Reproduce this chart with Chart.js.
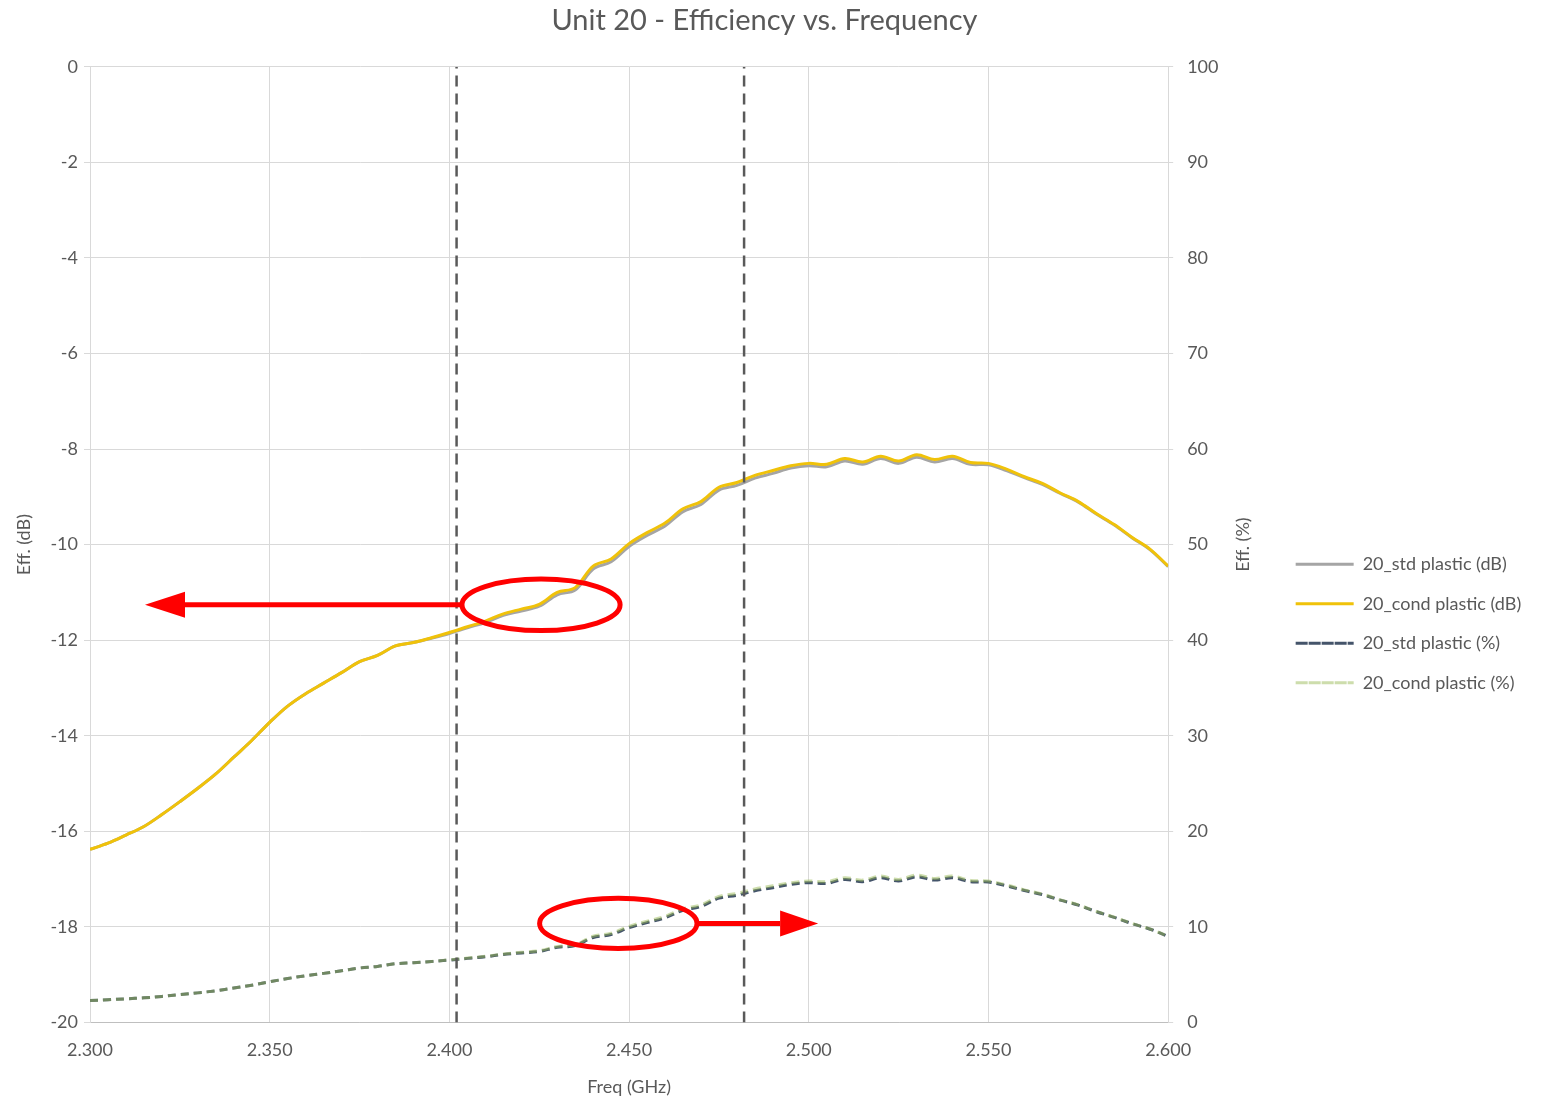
<!DOCTYPE html>
<html>
<head>
<meta charset="utf-8">
<title>Unit 20 - Efficiency vs. Frequency</title>
<script src="https://cdn.jsdelivr.net/npm/chart.js@4.4.1/dist/chart.umd.min.js"></script>
<style>
  html, body { margin: 0; padding: 0; background: #ffffff; }
  #wrap { width: 1543px; height: 1099px; }
</style>
</head>
<body>
<div id="wrap"><canvas id="effChart"></canvas></div>
<script>
// frequency points (GHz)
const freqGHz = [
  2.300, 2.305, 2.310, 2.315, 2.320, 2.325, 2.330, 2.335, 2.340, 2.345,
  2.350, 2.355, 2.360, 2.365, 2.370, 2.375, 2.380, 2.385, 2.390, 2.395,
  2.400, 2.405, 2.410, 2.415, 2.420, 2.425, 2.430, 2.435, 2.440, 2.445,
  2.450, 2.455, 2.460, 2.465, 2.470, 2.475, 2.480, 2.485, 2.490, 2.495,
  2.500, 2.505, 2.510, 2.515, 2.520, 2.525, 2.530, 2.535, 2.540, 2.545,
  2.550, 2.555, 2.560, 2.565, 2.570, 2.575, 2.580, 2.585, 2.590, 2.595,
  2.600
];

// efficiency in dB
const condDb = [
  -16.38, -16.25, -16.08, -15.90, -15.65, -15.38, -15.10, -14.80, -14.45, -14.10,
  -13.72, -13.38, -13.12, -12.90, -12.68, -12.45, -12.32, -12.12, -12.05, -11.95,
  -11.84, -11.72, -11.60, -11.45, -11.35, -11.25, -11.00, -10.90, -10.45, -10.30,
  -9.98, -9.75, -9.55, -9.25, -9.10, -8.80, -8.70, -8.55, -8.45, -8.35,
  -8.30, -8.32, -8.20, -8.27, -8.15, -8.25, -8.12, -8.22, -8.15, -8.28,
  -8.30, -8.42, -8.58, -8.72, -8.92, -9.10, -9.35, -9.58, -9.85, -10.10,
  -10.45
];
const stdDb = [
  -16.38, -16.25, -16.08, -15.90, -15.65, -15.38, -15.10, -14.80, -14.45, -14.10,
  -13.72, -13.38, -13.12, -12.90, -12.68, -12.45, -12.32, -12.12, -12.05, -11.96,
  -11.86, -11.74, -11.63, -11.48, -11.39, -11.29, -11.05, -10.95, -10.51, -10.36,
  -10.04, -9.81, -9.61, -9.31, -9.16, -8.86, -8.76, -8.61, -8.51, -8.40,
  -8.35, -8.37, -8.25, -8.32, -8.20, -8.30, -8.17, -8.27, -8.20, -8.32,
  -8.33, -8.45, -8.60, -8.74, -8.93, -9.11, -9.36, -9.59, -9.86, -10.11,
  -10.46
];

// efficiency in %
const condPct = [
  2.30, 2.37, 2.47, 2.57, 2.72, 2.90, 3.09, 3.31, 3.59, 3.89,
  4.25, 4.59, 4.88, 5.13, 5.40, 5.69, 5.86, 6.14, 6.24, 6.38,
  6.55, 6.73, 6.92, 7.16, 7.33, 7.50, 7.94, 8.13, 9.02, 9.33,
  10.05, 10.59, 11.09, 11.89, 12.30, 13.18, 13.49, 13.96, 14.29, 14.62,
  14.79, 14.72, 15.14, 14.89, 15.31, 14.96, 15.42, 15.07, 15.31, 14.86,
  14.79, 14.39, 13.87, 13.43, 12.82, 12.30, 11.61, 11.01, 10.35, 9.77,
  9.02
];
const stdPct = [
  2.30, 2.37, 2.47, 2.57, 2.72, 2.90, 3.09, 3.31, 3.59, 3.89,
  4.25, 4.59, 4.88, 5.13, 5.40, 5.69, 5.86, 6.14, 6.24, 6.37,
  6.52, 6.70, 6.87, 7.11, 7.27, 7.43, 7.85, 8.04, 8.89, 9.20,
  9.91, 10.44, 10.94, 11.73, 12.13, 13.00, 13.30, 13.77, 14.09, 14.45,
  14.62, 14.55, 14.96, 14.72, 15.14, 14.79, 15.24, 14.89, 15.14, 14.72,
  14.69, 14.29, 13.80, 13.37, 12.79, 12.27, 11.59, 10.99, 10.33, 9.75,
  9.00
];

// band edges (GHz), dashed vertical markers
const bandEdges = [2.402, 2.482];

// red callouts: ellipse centre / half sizes in data units, arrow tip on x
const dbCallout = { cx: 2.4255, cy: -11.26, rx: 0.0220, ry: 0.54, tip: 2.3153 };
const pctCallout = { cx: 2.4470, cy: 10.36, rx: 0.0219, ry: 2.62, tip: 2.5026 };

const textColor = '#595959';
const gridColor = '#d9d9d9';
const fontFamily = 'Lato, "Open Sans", sans-serif';

function toPoints(values) {
  return values.map((v, i) => ({ x: freqGHz[i], y: v }));
}

function markerLine(f) {
  return {
    label: 'marker',
    data: [{ x: f, y: -20 }, { x: f, y: 0 }],
    yAxisID: 'yDb',
    borderColor: '#595959',
    borderWidth: 2.5,
    borderDash: [11, 7],
    pointRadius: 0,
    order: 0
  };
}

// red ellipses + arrows and the right axis title (reads bottom to top)
const calloutPlugin = {
  id: 'callouts',
  afterDatasetsDraw(chart) {
    const ctx = chart.ctx;
    const x = chart.scales.x;

    function drawCallout(c, yScale, toLeft) {
      const cx = x.getPixelForValue(c.cx);
      const cy = yScale.getPixelForValue(c.cy);
      const rx = x.getPixelForValue(c.cx + c.rx) - cx;
      const ry = yScale.getPixelForValue(c.cy - c.ry) - cy;
      const tipX = x.getPixelForValue(c.tip);
      const startX = toLeft ? cx - rx : cx + rx;
      const headLen = toLeft ? 40 : -38;

      ctx.save();
      ctx.strokeStyle = '#ff0000';
      ctx.fillStyle = '#ff0000';
      ctx.lineWidth = 5;
      ctx.beginPath();
      ctx.ellipse(cx, cy, rx, Math.abs(ry), 0, 0, Math.PI * 2);
      ctx.stroke();

      ctx.beginPath();
      ctx.moveTo(startX, cy);
      ctx.lineTo(tipX + headLen, cy);
      ctx.stroke();

      ctx.beginPath();
      ctx.moveTo(tipX, cy);
      ctx.lineTo(tipX + headLen, cy - 13);
      ctx.lineTo(tipX + headLen, cy + 13);
      ctx.closePath();
      ctx.fill();
      ctx.restore();
    }

    drawCallout(dbCallout, chart.scales.yDb, true);
    drawCallout(pctCallout, chart.scales.yPct, false);

    // right axis title
    const yp = chart.scales.yPct;
    ctx.save();
    ctx.fillStyle = textColor;
    ctx.font = '18px ' + fontFamily;
    ctx.textAlign = 'center';
    ctx.textBaseline = 'middle';
    ctx.translate(yp.left + 75, (chart.chartArea.top + chart.chartArea.bottom) / 2);
    ctx.rotate(-Math.PI / 2);
    ctx.fillText('Eff. (%)', 0, 0);
    ctx.restore();
  }
};

const data = {
  datasets: [
    {
      label: '20_std plastic (dB)',
      data: toPoints(stdDb),
      yAxisID: 'yDb',
      borderColor: '#a5a5a5',
      borderWidth: 3,
      pointRadius: 0,
      tension: 0.35,
      order: 2
    },
    {
      label: '20_cond plastic (dB)',
      data: toPoints(condDb),
      yAxisID: 'yDb',
      borderColor: '#f0c20a',
      borderWidth: 3,
      pointRadius: 0,
      tension: 0.35,
      order: 1
    },
    {
      label: '20_std plastic (%)',
      data: toPoints(stdPct),
      yAxisID: 'yPct',
      borderColor: '#44546a',
      borderWidth: 3,
      borderDash: [8, 5],
      pointRadius: 0,
      tension: 0.35,
      order: 4
    },
    {
      label: '20_cond plastic (%)',
      data: toPoints(condPct),
      yAxisID: 'yPct',
      borderColor: 'rgba(155, 187, 89, 0.5)',
      borderWidth: 3,
      borderDash: [8, 5],
      pointRadius: 0,
      tension: 0.35,
      order: 3
    },
    markerLine(bandEdges[0]),
    markerLine(bandEdges[1])
  ]
};

const config = {
  type: 'line',
  data: data,
  options: {
    responsive: true,
    maintainAspectRatio: false,
    animation: false,
    layout: { padding: { top: 0, right: 14, bottom: 3, left: 0 } },
    plugins: {
      title: {
        display: true,
        text: 'Unit 20 - Efficiency vs. Frequency',
        color: textColor,
        font: { family: fontFamily, size: 29, weight: 'normal' },
        padding: { top: 3, bottom: 29 }
      },
      legend: {
        position: 'right',
        align: 'center',
        title: { display: true, text: ' ', font: { size: 1 }, padding: { top: 0, bottom: 150 } },
        labels: {
          filter: (item) => item.datasetIndex < 4,
          sort: (a, b) => a.datasetIndex - b.datasetIndex,
          generateLabels: (chart) => {
            const items = Chart.defaults.plugins.legend.labels.generateLabels(chart);
            items.forEach((item) => { item.fillStyle = 'rgba(0,0,0,0)'; });
            return items;
          },
          boxWidth: 58,
          boxHeight: 0,
          color: textColor,
          font: { family: fontFamily, size: 18 },
          padding: 21.5
        }
      },
      tooltip: { enabled: false }
    },
    scales: {
      x: {
        type: 'linear',
        min: 2.3,
        max: 2.6,
        ticks: {
          stepSize: 0.05,
          color: textColor,
          font: { family: fontFamily, size: 18 },
          padding: 17,
          maxRotation: 0,
          callback: (v) => Number(v).toFixed(3)
        },
        grid: { color: gridColor, tickLength: 0 },
        border: { color: '#bfbfbf' },
        title: {
          display: true,
          text: 'Freq (GHz)',
          color: textColor,
          font: { family: fontFamily, size: 18, lineHeight: 1.0 },
          padding: { top: 0, bottom: 0 }
        }
      },
      yDb: {
        position: 'left',
        min: -20,
        max: 0,
        ticks: {
          stepSize: 2,
          color: textColor,
          font: { family: fontFamily, size: 18 },
          padding: 6
        },
        grid: { color: gridColor, tickLength: 6 },
        border: { color: gridColor },
        title: {
          display: true,
          text: 'Eff. (dB)',
          color: textColor,
          font: { family: fontFamily, size: 18 },
          padding: { top: 13, bottom: 6 }
        },
        afterFit: (scale) => { scale.width = 90; }
      },
      yPct: {
        position: 'right',
        min: 0,
        max: 100,
        ticks: {
          stepSize: 10,
          color: textColor,
          font: { family: fontFamily, size: 18 },
          padding: 14
        },
        grid: { drawOnChartArea: false, color: gridColor, tickLength: 5 },
        border: { color: gridColor },
        afterFit: (scale) => { scale.width = 106; }
      }
    }
  },
  plugins: [calloutPlugin]
};

new Chart(document.getElementById('effChart'), config);
</script>
</body>
</html>
